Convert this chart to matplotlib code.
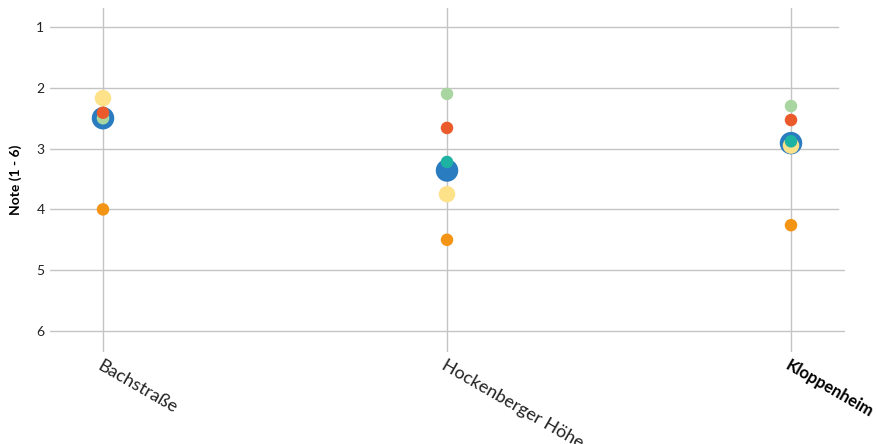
import matplotlib
matplotlib.use("Agg")
import matplotlib.pyplot as plt

categories = ["Bachstraße", "Hockenberger Höhe", "Kloppenheim"]
series_blue = [2.50, 3.36, 2.91]
series_orange = [4.00, 4.50, 4.26]
series_yellow = [2.17, 3.75, 2.95]
series_green = [2.50, 2.10, 2.30]
series_red = [2.41, 2.66, 2.53]
series_teal = [2.50, 3.22, 2.88]
y_ticks = [1, 2, 3, 4, 5, 6]

plt.rcParams['font.family'] = ['Lato', 'DejaVu Sans']

fig = plt.figure(figsize=(8.77, 4.44), dpi=100)
W, H = 877, 444
left_px, right_px = 50, 845
ax = fig.add_axes([left_px / W, 1 - 352 / H, (right_px - left_px) / W, (352 - 8) / H])

x = list(range(len(categories)))
grid_c = "#c4c4c4"
short_end = (838 - left_px) / (right_px - left_px)
for yv in y_ticks:
    ax.axhline(yv, color=grid_c, lw=1, zorder=0, xmax=short_end if yv <= 4 else 1)
for xv in x:
    ax.axvline(xv, color=grid_c, lw=1, zorder=0)

def dots(vals, color, d):
    ax.scatter(x, vals, s=d ** 2, color=color, edgecolors='none', zorder=3)

dots(series_blue, "#2a7cc0", 22.5 * 0.72)
dots(series_yellow, "#fde28a", 16.5 * 0.72)
dots(series_teal, "#1db2a2", 12.5 * 0.72)
dots(series_green, "#a9d6a0", 12.5 * 0.72)
dots(series_red, "#ea5a2a", 12.5 * 0.72)
dots(series_orange, "#f39414", 12.5 * 0.72)

ax.set_xlim(-(103 - left_px) / 344, 2 + (right_px - 791) / 344)
ax.set_ylim(6 + 21 / 60.8, 1 - 19 / 60.8)

for s in ax.spines.values():
    s.set_visible(False)

ax.set_yticks(y_ticks)
ax.set_yticklabels([str(v) for v in y_ticks], fontsize=10, color="#222222")
ax.tick_params(axis='y', length=0, pad=4)
ax.set_xticks(x)
ax.set_xticklabels(categories, fontsize=13, color="#222222", rotation=-30,
                   ha='left', va='top', rotation_mode='anchor')
ax.tick_params(axis='x', length=0, pad=4)
klabel = ax.get_xticklabels()[2]
klabel.set_fontweight('bold')
klabel.set_fontsize(12)
klabel.set_color("#000000")
ax.set_ylabel("Note (1 - 6)", fontsize=10, fontweight='bold', labelpad=10)

fig.savefig("out.png", dpi=100)
